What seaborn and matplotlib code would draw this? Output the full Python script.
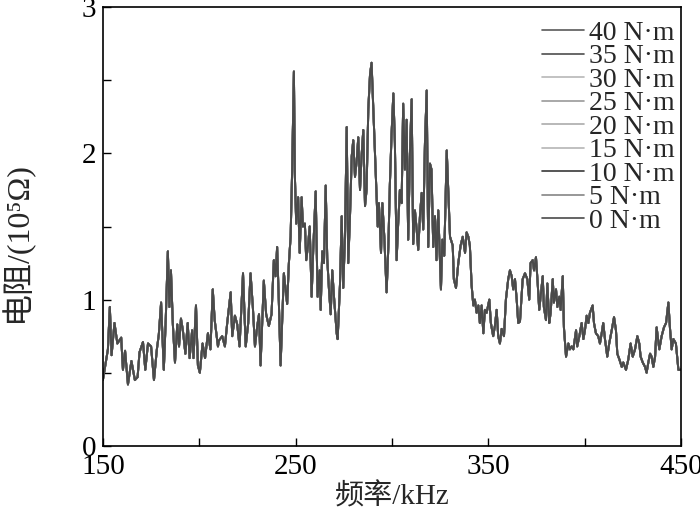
import numpy as np
import pandas as pd
import seaborn as sns
from matplotlib import pyplot as plt

# values (kHz, 10^5 ohm)
freq_khz = [
    150.0, 152.6, 153.6, 154.5, 156.0, 157.5, 159.5, 160.4, 161.5, 163.0,
    164.8, 166.6, 168.0, 169.0, 170.8, 172.0, 173.4, 175.0, 176.5, 178.0,
    179.0, 180.2, 181.6, 182.6, 183.7, 184.5, 185.3, 186.3, 187.4, 188.6,
    189.5, 190.5, 191.5, 192.8, 194.0, 195.0, 196.3, 197.0, 198.3, 199.3,
    200.3, 201.7, 203.0, 204.5, 205.8, 207.0, 208.0, 209.7, 210.2, 211.9,
    213.3, 214.5, 216.3, 217.1, 218.5, 219.7, 220.9, 222.7, 224.1, 225.4,
    226.6, 227.8, 228.9, 230.1, 231.0, 231.8, 233.5, 234.7, 236.1, 237.5,
    238.7, 239.6, 240.4, 241.3, 242.2, 243.9, 244.8, 245.6, 246.5, 247.4,
    248.2, 249.1, 249.6, 250.3, 251.3, 252.1, 253.1, 253.8, 254.8, 255.5,
    256.5, 257.3, 258.3, 259.1, 260.4, 261.4, 262.5, 263.0, 263.8, 264.7,
    265.6, 266.4, 267.3, 268.2, 269.0, 269.9, 271.3, 271.8, 273.0, 273.9,
    274.7, 275.6, 276.5, 277.3, 278.2, 279.1, 279.9, 280.8, 281.7, 282.5,
    283.4, 284.2, 285.1, 286.0, 286.8, 287.7, 288.6, 289.4, 290.3, 291.5,
    292.6, 293.2, 294.3, 295.0, 296.0, 296.7, 297.2, 298.1, 298.9, 299.8,
    300.7, 301.5, 302.4, 303.2, 304.1, 305.0, 305.8, 306.7, 307.6, 308.4,
    309.3, 310.2, 311.0, 311.9, 312.8, 313.6, 314.5, 315.4, 316.2, 317.1,
    318.0, 318.8, 319.7, 320.5, 321.4, 322.3, 323.1, 324.0, 325.4, 326.1,
    327.1, 328.4, 329.2, 330.1, 331.5, 332.1, 333.2, 334.4, 335.6, 336.7,
    337.9, 338.7, 339.6, 340.4, 341.3, 342.2, 343.0, 343.9, 344.8, 345.6,
    346.5, 347.4, 348.2, 349.1, 350.5, 351.3, 352.5, 353.4, 354.3, 355.1,
    356.0, 356.9, 358.1, 359.1, 360.3, 361.2, 362.1, 362.9, 363.8, 364.7,
    365.5, 366.4, 367.8, 369.0, 370.2, 371.2, 371.9, 373.0, 373.7, 374.7,
    375.6, 376.4, 377.1, 378.2, 378.8, 379.9, 380.6, 381.6, 382.3, 383.4,
    384.0, 385.1, 385.8, 386.8, 387.5, 388.6, 389.2, 390.3, 391.5, 392.3,
    393.2, 394.1, 395.5, 396.1, 397.2, 398.4, 399.3, 400.1, 401.0, 401.9,
    402.7, 404.1, 404.8, 405.8, 407.0, 407.9, 408.8, 409.6, 410.5, 411.7,
    412.7, 414.0, 415.2, 416.2, 416.9, 418.0, 419.2, 420.0, 421.4, 422.6,
    423.8, 424.9, 426.1, 427.3, 428.3, 429.0, 430.1, 431.3, 432.1, 433.0,
    433.9, 434.7, 435.6, 436.5, 437.3, 438.7, 439.9, 441.1, 442.2, 443.4,
    444.2, 445.1, 446.0, 447.3, 448.6, 450.0,
]
resistance = [
    0.45, 0.66, 0.95, 0.62, 0.84, 0.70, 0.74, 0.52, 0.65, 0.42,
    0.58, 0.45, 0.47, 0.64, 0.71, 0.52, 0.70, 0.68, 0.45, 0.66,
    0.76, 0.98, 0.52, 0.86, 1.33, 0.95, 1.20, 0.83, 0.57, 0.83,
    0.68, 0.87, 0.79, 0.63, 0.84, 0.60, 0.79, 0.60, 0.96, 0.55,
    0.50, 0.70, 0.60, 0.77, 0.66, 1.07, 0.86, 0.68, 0.72, 0.75,
    0.68, 0.84, 1.05, 0.75, 0.89, 0.83, 0.68, 1.18, 0.68, 0.84,
    1.18, 0.95, 0.68, 0.82, 0.90, 0.55, 1.13, 0.90, 0.82, 0.90,
    1.27, 1.16, 1.36, 0.98, 0.55, 1.18, 1.07, 0.97, 1.25, 1.43,
    1.89, 2.56, 1.85, 1.52, 1.70, 1.32, 1.70, 1.50, 1.52, 1.27,
    1.38, 1.50, 1.02, 1.33, 1.74, 1.02, 1.20, 0.93, 1.33, 1.25,
    1.78, 1.28, 1.07, 0.90, 1.20, 1.02, 0.77, 0.73, 1.10, 1.57,
    1.08, 1.43, 2.18, 1.25, 1.57, 1.98, 2.09, 1.84, 1.95, 2.11,
    1.75, 1.98, 2.16, 1.64, 1.75, 2.30, 2.54, 2.62, 2.30, 1.89,
    1.50, 1.66, 1.32, 1.66, 1.43, 1.20, 1.05, 1.36, 1.79, 2.14,
    2.41, 2.07, 1.27, 1.52, 1.75, 1.66, 2.34, 1.89, 2.23, 1.41,
    2.00, 2.37, 1.38, 1.61, 1.48, 1.34, 1.57, 1.73, 1.48, 2.07,
    2.43, 1.36, 1.93, 1.89, 1.36, 1.57, 1.27, 1.61, 1.07, 1.41,
    1.30, 2.02, 1.75, 1.43, 1.37, 1.14, 1.08, 1.25, 1.37, 1.43,
    1.32, 1.46, 1.43, 1.37, 1.10, 0.96, 1.00, 0.91, 0.96, 0.84,
    0.96, 0.77, 0.93, 0.91, 1.00, 0.84, 0.75, 0.82, 0.93, 0.75,
    0.70, 0.80, 0.75, 1.00, 1.14, 1.20, 1.16, 1.07, 1.14, 1.00,
    0.84, 0.85, 1.14, 1.18, 1.14, 1.00, 1.25, 1.27, 1.20, 1.29,
    1.11, 0.93, 1.02, 1.16, 0.95, 0.86, 1.11, 0.84, 0.91, 1.14,
    0.98, 1.07, 0.95, 1.02, 0.93, 1.16, 0.81, 0.61, 0.70, 0.66,
    0.68, 0.66, 0.79, 0.68, 0.75, 0.84, 0.73, 0.79, 0.89, 0.84,
    0.91, 0.96, 0.84, 0.77, 0.75, 0.70, 0.77, 0.84, 0.73, 0.61,
    0.70, 0.79, 0.88, 0.79, 0.63, 0.59, 0.54, 0.57, 0.52, 0.59,
    0.70, 0.61, 0.66, 0.75, 0.70, 0.61, 0.57, 0.54, 0.50, 0.57,
    0.63, 0.61, 0.54, 0.61, 0.81, 0.66, 0.75, 0.81, 0.84, 0.98,
    0.81, 0.66, 0.73, 0.70, 0.52, 0.52,
]

torque_labels = ["40 N·m", "35 N·m", "30 N·m", "25 N·m", "20 N·m",
                 "15 N·m", "10 N·m", "5 N·m", "0 N·m"]
torque_colors = ["#5a5a5a", "#4e4e4e", "#b8b8b8", "#9a9a9a", "#ababab",
                 "#b5b5b5", "#383838", "#858585", "#4a4a4a"]

# all torque curves lie on top of each other in the picture
frames = []
for label in torque_labels:
    frames.append(pd.DataFrame({"freq": freq_khz, "res": resistance, "torque": label}))
df = pd.concat(frames, ignore_index=True)

sns.set_style("ticks")
plt.rcParams["font.family"] = ["Liberation Serif", "Noto Sans CJK SC", "DejaVu Sans"]

fig = plt.figure(figsize=(7, 5.16), dpi=100)
ax = fig.add_axes([0.147, 0.136, 0.826, 0.85])

sns.lineplot(data=df, x="freq", y="res", hue="torque", hue_order=torque_labels,
             palette=dict(zip(torque_labels, torque_colors)),
             estimator=None, sort=False, linewidth=1.4, ax=ax)

ax.set_xlim(150, 450)
ax.set_ylim(0, 3)
ax.set_xticks([150, 200, 250, 300, 350, 400, 450])
ax.set_xticklabels(["150", "", "250", "", "350", "", "450"])
ax.set_yticks([0, 0.5, 1, 1.5, 2, 2.5, 3])
ax.set_yticklabels(["0", "", "1", "", "2", "", "3"])
ax.tick_params(direction="in", length=6, width=1, labelsize=21, colors="black")
ax.tick_params(axis="x", pad=6)
ax.tick_params(axis="y", pad=5)
for side in ["left", "right", "top", "bottom"]:
    ax.spines[side].set_visible(True)
    ax.spines[side].set_linewidth(1.2)
    ax.spines[side].set_color("black")

ax.set_xlabel("频率/kHz", fontsize=21, labelpad=2)
ax.set_ylabel("电阻/(10⁵Ω)", fontsize=23)
ax.yaxis.set_label_coords(-0.12, 0.466)

handles, labels = ax.get_legend_handles_labels()
leg = ax.legend(handles, labels, loc="upper right", bbox_to_anchor=(1.018, 1.008),
                frameon=False, fontsize=20, labelspacing=-0.07, handlelength=1.5,
                handletextpad=0.2, borderaxespad=0.2)
for line in leg.get_lines():
    line.set_linewidth(1.2)

fig.savefig("out.png", dpi=100)
